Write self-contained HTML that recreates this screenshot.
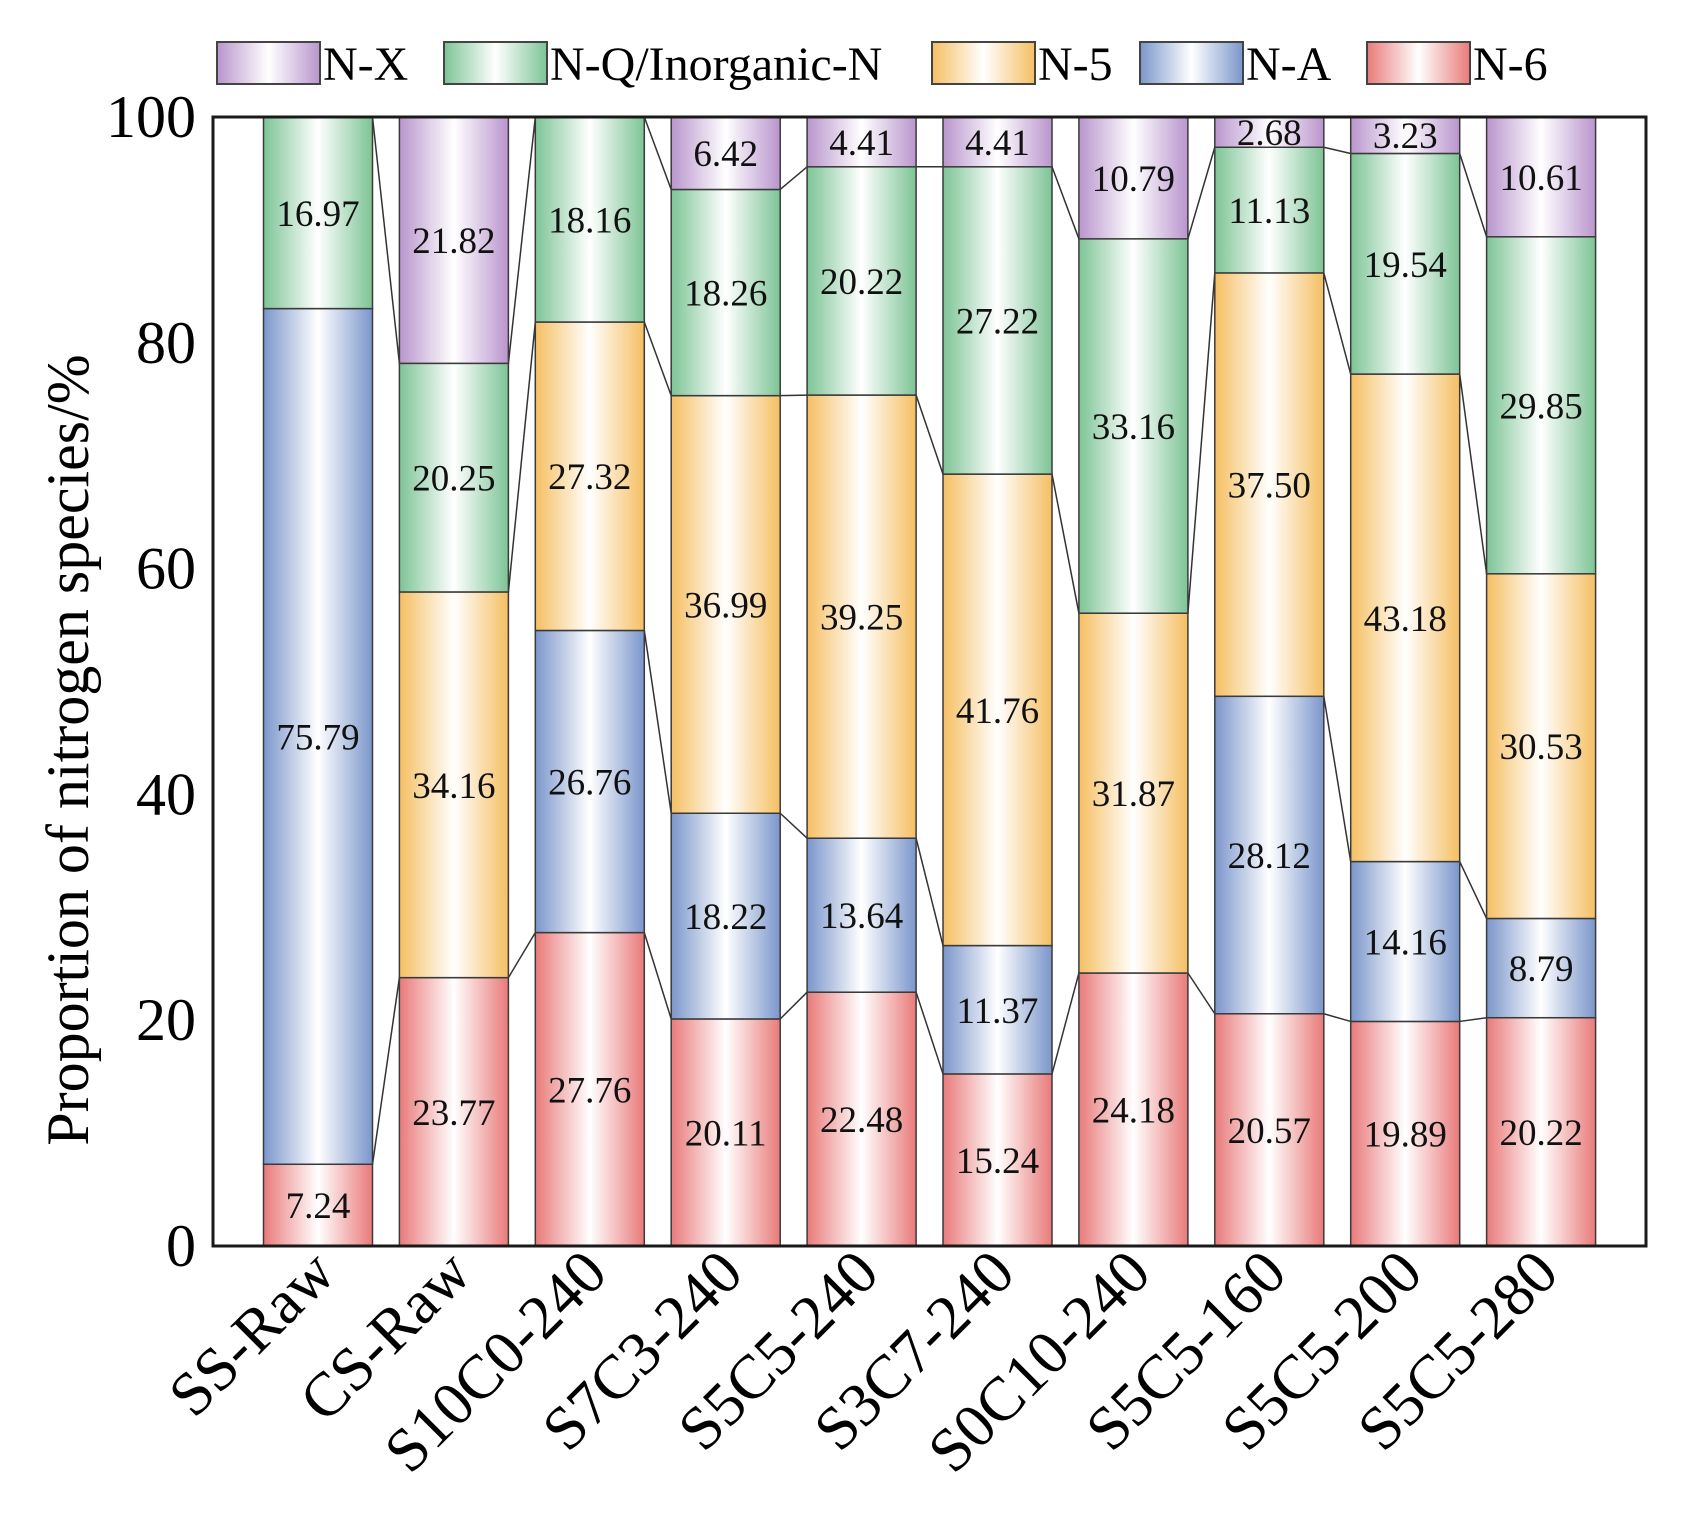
<!DOCTYPE html>
<html><head><meta charset="utf-8"><style>
body{margin:0;background:#fff}
svg{display:block;font-family:"Liberation Serif","DejaVu Serif",serif}
svg text{font-family:"Liberation Serif","DejaVu Serif",serif}
</style></head><body>
<svg id="chart" width="1699" height="1522" viewBox="0 0 1699 1522" font-family="Liberation Serif, serif">
<defs id="defs"></defs>
<g id="connectors"></g>
<g id="bars"></g>
<g id="labels"></g>
<rect x="213" y="117" width="1433" height="1129" fill="none" stroke="#1a1a1a" stroke-width="3"/>
<g id="yaxis"></g>
<g id="xaxis"></g>
<text transform="translate(88,750) rotate(-90)" text-anchor="middle" font-size="60">Proportion of nitrogen species/%</text>
<g id="legend"></g>
</svg>
<script>
const categories=["SS-Raw","CS-Raw","S10C0-240","S7C3-240","S5C5-240","S3C7-240","S0C10-240","S5C5-160","S5C5-200","S5C5-280"];
const seriesNames=["N-6","N-A","N-5","N-Q/Inorganic-N","N-X"];
const n6=[7.24,23.77,27.76,20.11,22.48,15.24,24.18,20.57,19.89,20.22];
const nA=[75.79,0,26.76,18.22,13.64,11.37,0,28.12,14.16,8.79];
const n5=[0,34.16,27.32,36.99,39.25,41.76,31.87,37.50,43.18,30.53];
const nQ=[16.97,20.25,18.16,18.26,20.22,27.22,33.16,11.13,19.54,29.85];
const nX=[0,21.82,0,6.42,4.41,4.41,10.79,2.68,3.23,10.61];
const yTicks=[0,20,40,60,80,100];

const series=[n6,nA,n5,nQ,nX];
const colors=["#e97a7a","#7b96cb","#f5bf62","#7dc496","#b995cd"];
const keys=["n6","na","n5","nq","nx"];
const NS="http://www.w3.org/2000/svg";
const X0=213,X1=1646,Y0=1246,Y1=117;
const y=v=>Y0-(v/100)*(Y0-Y1);
const xc=i=>318+i*135.9;
const BW=109;
function mk(t,a,p){const e=document.createElementNS(NS,t);for(const k in a)e.setAttribute(k,a[k]);p.appendChild(e);return e;}
const defs=document.getElementById('defs');
colors.forEach((c,k)=>{const g=mk('linearGradient',{id:'g'+k,x1:'0',x2:'1',y1:'0',y2:'0'},defs);
mk('stop',{offset:'0',"stop-color":c},g);mk('stop',{offset:'0.5',"stop-color":'#ffffff'},g);mk('stop',{offset:'1',"stop-color":c},g);});
const bars=document.getElementById('bars'),labels=document.getElementById('labels'),conn=document.getElementById('connectors');
const cum=categories.map((_,i)=>{let s=0;return series.map(ser=>{s+=ser[i];return s;});});
categories.forEach((c,i)=>{
  let base=0;
  series.forEach((ser,k)=>{
    const v=ser[i];if(v<=0)return;
    const r=mk('rect',{x:xc(i)-BW/2,y:y(base+v),width:BW,height:y(base)-y(base+v),fill:'url(#g'+k+')',stroke:'#3a3a3a','stroke-width':1.5},bars);
    
    
    const t=mk('text',{x:xc(i),y:y(base+v/2)+13,'text-anchor':'middle','font-size':37,fill:'#111'},labels);
    
    
    t.textContent=v.toFixed(2);
    base+=v;
  });
});
for(let i=0;i<categories.length-1;i++){
  for(let k=0;k<4;k++){
    if(series[k][i]<=0||series[k][i+1]<=0)continue;
    const l=mk('line',{x1:xc(i)+BW/2,y1:y(cum[i][k]),x2:xc(i+1)-BW/2,y2:y(cum[i+1][k]),stroke:'#333','stroke-width':1.5},conn);
    
    
  }
}
const ya=document.getElementById('yaxis');
yTicks.forEach(v=>{const t=mk('text',{x:196,y:y(v)+20,'text-anchor':'end','font-size':60},ya);
t.textContent=v;});
const xa=document.getElementById('xaxis');
categories.forEach((c,i)=>{const t=mk('text',{transform:`translate(${xc(i)+20},1276) rotate(-45)`,'text-anchor':'end','font-size':62},xa);
t.textContent=c;});
const lg=document.getElementById('legend');
const legItems=[[4,"N-X",217],[3,"N-Q/Inorganic-N",444],[2,"N-5",932],[1,"N-A",1140],[0,"N-6",1367]];
legItems.forEach(([k,name,x])=>{
  const r=mk('rect',{x:x,y:42,width:103,height:42,fill:'url(#g'+k+')',stroke:'#444','stroke-width':2},lg);
  
  const t=mk('text',{x:x+106,y:80,'font-size':48},lg);
  t.textContent=name;
});
</script>
</body></html>
